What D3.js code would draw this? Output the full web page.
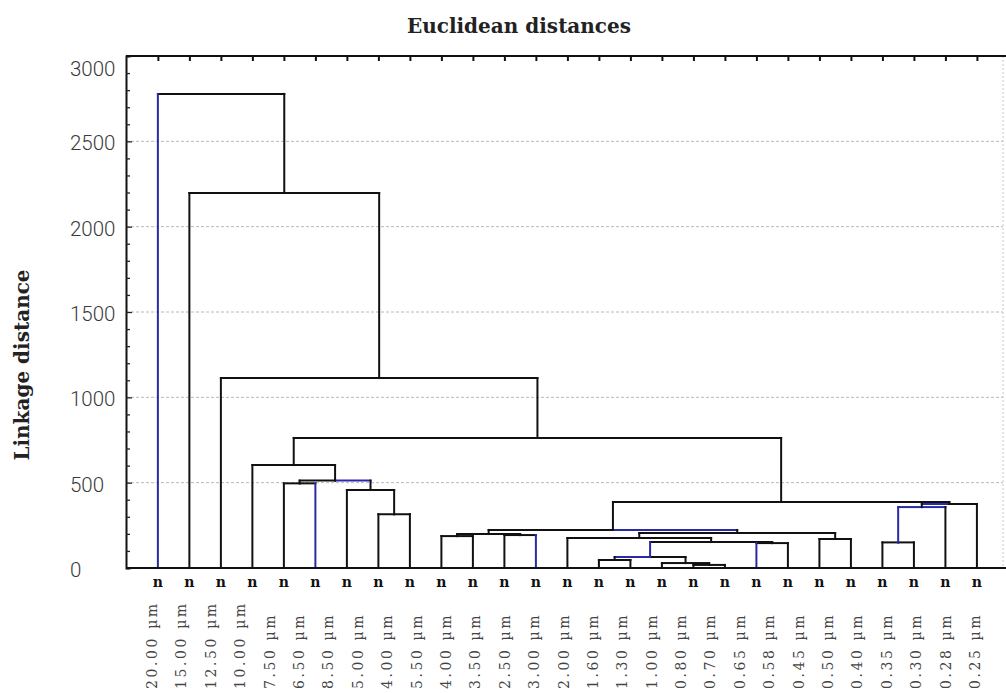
<!DOCTYPE html>
<html><head><meta charset="utf-8">
<script src="https://cdn.jsdelivr.net/npm/d3@7/dist/d3.min.js"></script>
<style>body{margin:0;background:#fff}svg{display:block}</style>
</head><body>
<svg id="chart" width="1006" height="693"></svg>
<script>
// ---- data ----
const chartTitle = "Euclidean distances";
const yAxisTitle = "Linkage distance";
const yTickValues = [0, 500, 1000, 1500, 2000, 2500, 3000];
const xLabels = ["20.00 µm","15.00 µm","12.50 µm","10.00 µm","7.50 µm","6.50 µm","8.50 µm","5.00 µm","4.00 µm","5.50 µm","4.00 µm","3.50 µm","2.50 µm","3.00 µm","2.00 µm","1.60 µm","1.30 µm","1.00 µm","0.80 µm","0.70 µm","0.65 µm","0.58 µm","0.45 µm","0.50 µm","0.40 µm","0.35 µm","0.30 µm","0.28 µm","0.25 µm"];
const leaves = ["L0","L1","L2","L3","L4","L5","L6","L7","L8","L9","L10","L11","L12","L13","L14","L15","L16","L17","L18","L19","L20","L21","L22","L23","L24","L25","L26"];
// merges: node name, left child, right child, linkage distance
const mergeNodes = ["n7_8","n6_8","n4_5","n4_8","n3_8","n9_10","n11_12","n9_12","n14_15","n17_18","n16_18","n14_18","n19_20","n14_20","n13_20","n21_22","n13_22","n9_22","n23_24","n23_25","n23_26","n9_26","n3_26","n2_26","n1_26","n0_26"];
const mergeLeft  = ["L7","L6","L4","n4_5","L3","L9","L11","n9_10","L14","L17","L16","n14_15","L19","n14_18","L13","L21","n13_20","n9_12","L23","n23_24","n23_25","n9_22","n3_8","L2","L1","L0"];
const mergeRight = ["L8","n7_8","L5","n6_8","n4_8","L10","L12","n11_12","L15","L18","n17_18","n16_18","L20","n19_20","n14_20","L22","n21_22","n13_22","L24","L25","L26","n23_26","n9_26","n3_26","n2_26","n1_26"];
const mergeHeight = [315, 457, 496, 512, 603, 187, 193, 199, 47, 18, 29, 64, 146, 152, 176, 170, 205, 223, 150, 357, 375, 387, 762, 1113, 2197, 2778];
// links drawn in blue in the original
const blueVertical = ["L0","L5","L12","L19","n14_18","n23_24"];
const blueHorizontal = ["n6_8","n23_24","L25","n23_25","n13_22","n14_15"];

// ---- layout ----
const P = {left:126, top:56, right:1003, bottom:568};
const svg = d3.select("#chart");
const y = d3.scaleLinear().domain([0, 3000]).range([P.bottom, P.top]);
const x = d3.scalePoint().domain(leaves).range([P.left, P.right]).padding(0.92).align(0.55);
const xl = d3.scalePoint().domain(d3.range(xLabels.length)).range([152, 975]);

// gridlines
svg.append("g").selectAll("line").data(yTickValues.filter(v => v > 0 && v < 3000)).join("line")
  .attr("x1", P.left).attr("x2", P.right).attr("y1", d => y(d)).attr("y2", d => y(d))
  .attr("stroke", "#b8b8b8").attr("stroke-width", 1).attr("stroke-dasharray", "3,2");
// right border (dotted)
svg.append("line").attr("x1", P.right).attr("x2", P.right).attr("y1", P.top).attr("y2", P.bottom)
  .attr("stroke", "#c8c8c8").attr("stroke-dasharray", "2,2");

// left axis with minor ticks
const yAxis = d3.axisLeft(y).tickValues(d3.range(0, 3001, 100)).tickSize(-4).tickFormat("");
const gy = svg.append("g").attr("transform", `translate(${P.left},0)`).call(yAxis);
gy.select(".domain").attr("stroke", "#111").attr("stroke-width", 2);
gy.selectAll(".tick line").attr("stroke", "#222").attr("stroke-width", 1.3)
  .attr("x2", d => d % 500 === 0 ? 6 : 4);
// y tick labels (left aligned as in the original)
svg.append("g").selectAll("text").data(yTickValues).join("text")
  .attr("x", 70).attr("y", d => y(d) + (d === 3000 ? 13 : 2))
  .attr("dominant-baseline", "central")
  .attr("font-family", "Roboto, 'Liberation Sans', sans-serif").attr("font-weight", 300)
  .attr("font-size", 20.5).attr("fill", "#3a3a3a").text(d => d);

// top border with ticks at each leaf
const topAxis = d3.axisTop(x).tickSize(-5).tickFormat("");
const gt = svg.append("g").attr("transform", `translate(0,${P.top})`).call(topAxis);
gt.select(".domain").remove();
gt.selectAll(".tick line").attr("stroke", "#111").attr("stroke-width", 2);
svg.append("line").attr("x1", P.left).attr("x2", 1006).attr("y1", P.top).attr("y2", P.top)
  .attr("stroke", "#111").attr("stroke-width", 2);

// ---- dendrogram ----
const pos = new Map();
leaves.forEach(l => pos.set(l, {x: x(l), h: 0}));
const parentOf = new Map();
mergeNodes.forEach((n, i) => {
  const a = pos.get(mergeLeft[i]), b = pos.get(mergeRight[i]);
  pos.set(n, {x: (a.x + b.x) / 2, h: mergeHeight[i]});
  parentOf.set(mergeLeft[i], n);
  parentOf.set(mergeRight[i], n);
});
const links = [...parentOf.entries()].map(([c, p]) => ({c, p, cx: pos.get(c).x, ch: pos.get(c).h, px: pos.get(p).x, ph: pos.get(p).h}));
const gd = svg.append("g").attr("fill", "none").attr("stroke-width", 2).attr("stroke-linecap", "square");
gd.selectAll("line.h").data(links).join("line").attr("class", "h")
  .attr("x1", d => d.cx).attr("x2", d => d.px).attr("y1", d => y(d.ph)).attr("y2", d => y(d.ph))
  .attr("stroke", d => blueHorizontal.includes(d.c) ? "#2a2aa8" : "#111");
gd.selectAll("line.v").data(links).join("line").attr("class", "v")
  .attr("x1", d => d.cx).attr("x2", d => d.cx).attr("y1", d => y(d.ch)).attr("y2", d => y(d.ph))
  .attr("stroke", d => blueVertical.includes(d.c) ? "#2a2aa8" : "#111");

// bottom axis line
svg.append("line").attr("x1", P.left).attr("x2", 1006).attr("y1", P.bottom).attr("y2", P.bottom)
  .attr("stroke", "#111").attr("stroke-width", 2);

// small marks under each leaf
svg.append("g").selectAll("text").data(leaves).join("text")
  .attr("x", d => x(d)).attr("y", 587).attr("text-anchor", "middle")
  .attr("font-family", "'DejaVu Serif', serif").attr("font-weight", "bold")
  .attr("font-size", 14).attr("fill", "#111").text("n");

// x labels, rotated
svg.append("g").selectAll("text").data(xLabels).join("text")
  .attr("transform", (d, i) => `translate(${xl(i)},689) rotate(-90)`)
  .attr("dominant-baseline", "central").attr("text-anchor", "start")
  .attr("font-family", "'DejaVu Serif', serif").attr("font-size", 14)
  .attr("letter-spacing", 2.6).attr("fill", "#444").text(d => d);

// titles
svg.append("text").attr("x", 519).attr("y", 33).attr("text-anchor", "middle")
  .attr("font-family", "'DejaVu Serif', serif").attr("font-weight", "bold")
  .attr("font-size", 20).attr("fill", "#222").text(chartTitle);
svg.append("text").attr("transform", "translate(22,365) rotate(-90)")
  .attr("text-anchor", "middle").attr("dominant-baseline", "central")
  .attr("font-family", "'DejaVu Serif', serif").attr("font-weight", "bold")
  .attr("font-size", 20).attr("fill", "#222").text(yAxisTitle);
</script>
</body></html>
